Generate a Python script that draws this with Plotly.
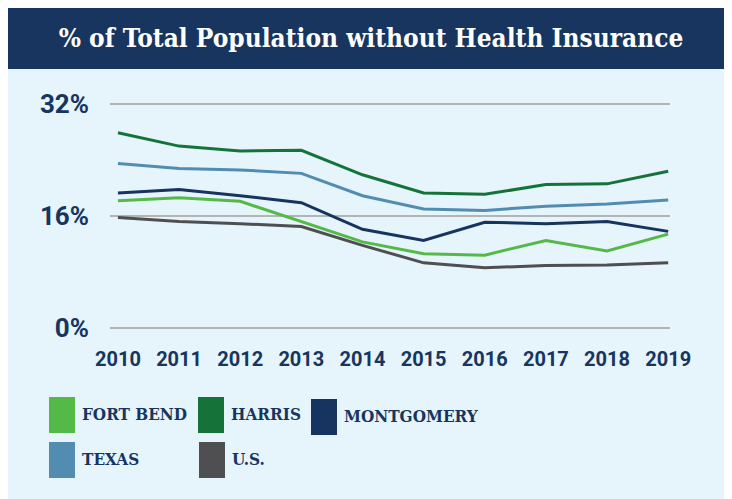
import plotly.graph_objects as go

# Data (% of population without health insurance)
years = [2010, 2011, 2012, 2013, 2014, 2015, 2016, 2017, 2018, 2019]
fort_bend = [18.2, 18.6, 18.1, 15.2, 12.3, 10.6, 10.4, 12.5, 11.0, 13.4]
harris = [27.9, 26.0, 25.3, 25.4, 21.9, 19.3, 19.1, 20.5, 20.6, 22.4]
montgomery = [19.3, 19.8, 18.9, 17.9, 14.1, 12.5, 15.1, 14.9, 15.2, 13.8]
texas = [23.5, 22.8, 22.6, 22.1, 18.9, 17.0, 16.8, 17.4, 17.7, 18.3]
us = [15.8, 15.2, 14.9, 14.5, 11.8, 9.3, 8.6, 8.9, 9.0, 9.3]

series_names = ["FORT BEND", "HARRIS", "MONTGOMERY", "TEXAS", "U.S."]
series_values = [fort_bend, harris, montgomery, texas, us]
series_colors = ["#55B947", "#15733A", "#17335F", "#528DB1", "#4F4F51"]

y_ticks = [0, 16, 32]
y_tick_labels = ["0%", "16%", "32%"]

NAVY = "#17355E"
PANEL = "#E6F4FC"
# page has an 8px body margin, so the figure is 8px smaller than the window
OFF = 8
W, H = 732 - OFF, 499 - OFF
L, R, T, B = 102, 62, 92, 167

# page pixel -> paper helpers for the decorative shapes / legend
def px_x(px):
    return (px - OFF - L) / (W - L - R)

def px_y(py):
    return (H - B - (py - OFF)) / (H - T - B)

fig = go.Figure()

# Draw back to front so U.S. sits under the others
order = [4, 3, 1, 2, 0]
for i in order:
    fig.add_trace(go.Scatter(
        x=years, y=series_values[i], name=series_names[i],
        mode="lines", line=dict(color=series_colors[i], width=3),
        showlegend=False))

# Background panel and title bar
fig.add_shape(type="rect", xref="paper", yref="paper", layer="below",
              x0=px_x(7), x1=px_x(740), y0=px_y(69), y1=px_y(500),
              fillcolor=PANEL, line_width=0)
fig.add_shape(type="rect", xref="paper", yref="paper", layer="below",
              x0=px_x(7), x1=px_x(740), y0=px_y(6), y1=px_y(69),
              fillcolor=NAVY, line_width=0)

# Manual legend: coloured blocks + labels
legend_pos = [(49, 397), (198, 397), (311, 399), (49, 442), (199, 442)]
for name, color, (lx, ly) in zip(series_names, series_colors, legend_pos):
    fig.add_shape(type="rect", xref="paper", yref="paper",
                  x0=px_x(lx), x1=px_x(lx + 26), y0=px_y(ly), y1=px_y(ly + 36),
                  fillcolor=color, line_width=0)
    fig.add_annotation(xref="paper", yref="paper",
                       x=px_x(lx + 31), y=px_y(ly + 17),
                       xanchor="left", yanchor="middle", showarrow=False,
                       text=name,
                       font=dict(family="DejaVu Serif Condensed", size=17,
                                 color=NAVY, weight="bold"))

fig.update_layout(
    width=W, height=H,
    margin=dict(l=L, r=R, t=T, b=B),
    paper_bgcolor="white",
    plot_bgcolor="rgba(0,0,0,0)",
    title=dict(text="% of Total Population without Health Insurance",
               x=(371 - OFF) / W, y=1 - (38 - OFF) / H,
               xanchor="center", yanchor="middle",
               font=dict(family="DejaVu Serif Condensed", size=26,
                         color="white", weight="bold")),
)

fig.update_xaxes(
    range=[2009.87, 2019.03], tickvals=years, showgrid=False, zeroline=False,
    showline=False, ticks="", ticklabelstandoff=13,
    tickfont=dict(family="Roboto", size=20, color=NAVY, weight="bold"))

fig.update_yaxes(
    range=[-0.6, 32.6], tickvals=y_ticks, ticktext=y_tick_labels,
    showgrid=True, gridcolor="#B4B4B4", gridwidth=1.5, zeroline=False,
    showline=False, ticks="", ticklabelstandoff=20,
    tickfont=dict(family="Roboto", size=26, color=NAVY, weight="bold"))

fig.write_html("out.html")
